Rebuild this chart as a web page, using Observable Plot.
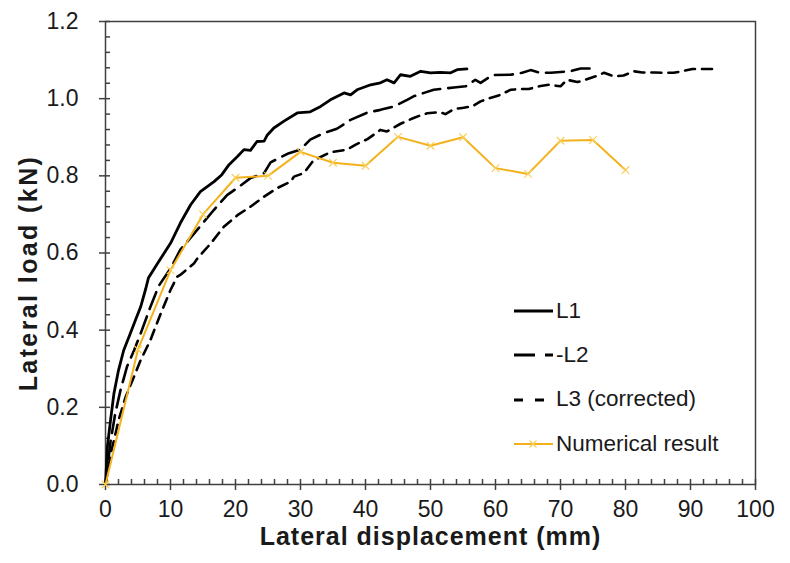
<!DOCTYPE html>
<html>
<head>
<meta charset="utf-8">
<script src="https://cdn.jsdelivr.net/npm/d3@7"></script>
<script src="https://cdn.jsdelivr.net/npm/@observablehq/plot@0.6"></script>
<style>
  html, body { margin: 0; padding: 0; background: #fff; }
  #wrap { position: relative; width: 790px; height: 563px; font-family: "Liberation Sans", Arial, sans-serif; }
  #legend { position: absolute; left: 514px; top: 289px; color: #1a1a1a; font-size: 22.5px; }
  .row { display: flex; align-items: center; height: 44.3px; }
  .row svg { display: block; }
  .row span { margin-left: 3px; line-height: 1; }
</style>
</head>
<body>
<div id="wrap"></div>
<script>
// ---- data ----
const l1X = [0,0.3,0.8,1.3,2.0,2.8,3.8,4.6,5.4,6.2,6.6,8,10,11.5,13.1,14.6,16.7,17.9,19,20.3,21.3,22.3,23.3,24.4,24.9,25.9,27.4,29.5,31.5,33.1,34.6,36.7,37.7,38.7,40.8,42.3,43.3,44.4,45.4,46.9,48.5,50,51.5,53.1,54.1,55.6];
const l1Y = [0,0.10,0.17,0.236,0.296,0.348,0.391,0.426,0.46,0.508,0.535,0.573,0.625,0.677,0.725,0.759,0.785,0.803,0.829,0.85,0.868,0.866,0.889,0.89,0.906,0.924,0.941,0.963,0.966,0.98,0.997,1.015,1.01,1.023,1.036,1.041,1.049,1.041,1.062,1.058,1.071,1.067,1.068,1.067,1.075,1.077];

const l2X = [0,0.8,1.5,2.3,3.3,4.4,5.4,6.9,8.2,10,11.5,12.6,14.1,16.7,18.7,20.8,22.3,24.4,25.4,28,30,31.5,33.6,35.6,37.7,40.3,42.3,44.4,46.4,47.4,49,50.5,53.6,55.4,56.9,57.7,59.5,62.3,64.1,65.4,66.9,68.5,71.5,73.1,74.6];
const l2Y = [0,0.114,0.184,0.244,0.305,0.348,0.391,0.46,0.515,0.56,0.608,0.63,0.66,0.712,0.75,0.775,0.794,0.807,0.835,0.857,0.868,0.894,0.911,0.922,0.945,0.964,0.971,0.98,0.997,1.006,1.015,1.023,1.029,1.032,1.049,1.041,1.061,1.062,1.067,1.074,1.067,1.067,1.071,1.078,1.078];

const l3X = [0,0.8,1.3,2,3.1,4.4,5.4,6.9,8.5,10,11,11.5,13.6,14.1,16.2,18.2,20.3,22.3,24.4,26.4,28.5,29,30.5,32,34.6,37.2,38.5,40.3,42.3,43.3,45.4,47.4,48.5,49.5,51.5,52.3,53.6,54.9,56.4,57.7,59.2,60.8,62.3,63.8,65.1,66.7,68.2,70,71,72.6,73.8,75.4,76.7,78.2,79.7,81.3,82.6,84.6,85.9,87.4,88.7,90.3,91.8,93.6];
const l3Y = [0,0.08,0.114,0.166,0.227,0.28,0.322,0.374,0.443,0.504,0.538,0.543,0.573,0.585,0.625,0.668,0.698,0.72,0.746,0.768,0.785,0.798,0.807,0.84,0.861,0.868,0.881,0.895,0.919,0.915,0.935,0.95,0.957,0.962,0.965,0.96,0.973,0.976,0.98,0.993,1.002,1.01,1.023,1.025,1.025,1.032,1.036,1.032,1.049,1.043,1.049,1.058,1.067,1.058,1.06,1.071,1.068,1.068,1.067,1.067,1.071,1.077,1.077,1.077];

const numX = [0,5,10,15,20,25,30,35,40,45,50,55,60,65,70,75,80];
const numY = [0,0.35,0.555,0.70,0.795,0.80,0.862,0.834,0.826,0.901,0.878,0.90,0.82,0.805,0.891,0.893,0.815];

const seriesNames = ["L1", "-L2", "L3 (corrected)", "Numerical result"];
const xTicks = [0,10,20,30,40,50,60,70,80,90,100];
const yTicks = [0,0.2,0.4,0.6,0.8,1.0,1.2];
const xTitle = "Lateral displacement (mm)";
const yTitle = "Lateral load (kN)";

// ---- build tables ----
const toRows = (xs, ys) => xs.map((x, i) => ({x, y: ys[i]}));
const l1 = toRows(l1X, l1Y), l2 = toRows(l2X, l2Y), l3 = toRows(l3X, l3Y), num = toRows(numX, numY);
const xMinor = d3.range(0, 100.001, 2).filter(v => v % 10 !== 0);
const yMinor = d3.range(0, 30.5, 1).map(v => v * 0.04).filter((v, i) => i % 5 !== 0);

const axisColor = "#404040";
const yellow = "#f3b21c";

const chart = Plot.plot({
  width: 790, height: 563,
  marginLeft: 105, marginRight: 35, marginTop: 21, marginBottom: 79,
  x: {domain: [0, 100]},
  y: {domain: [0, 1.2]},
  style: {fontFamily: "'Liberation Sans', Arial, sans-serif", fontSize: "23px", color: "#1a1a1a", background: "#fff"},
  marks: [
    Plot.frame({stroke: axisColor, strokeWidth: 1.5}),
    // ticks
    Plot.ruleY(yTicks, {x1: 0, x2: 0, insetLeft: -6, insetRight: -5, stroke: axisColor, strokeWidth: 1.5}),
    Plot.ruleY(yMinor, {x1: 0, x2: 0, insetRight: -5, stroke: axisColor, strokeWidth: 1.5}),
    Plot.ruleX(xTicks, {y1: 0, y2: 0, insetTop: -5, insetBottom: -6, stroke: axisColor, strokeWidth: 1.5}),
    Plot.ruleX(xMinor, {y1: 0, y2: 0, insetTop: -5, stroke: axisColor, strokeWidth: 1.5}),
    Plot.axisY({ticks: yTicks, tickSize: 0, tickPadding: 27, tickFormat: d3.format(".1f"), label: null, fontSize: 23}),
    Plot.axisX({ticks: xTicks, tickSize: 0, tickPadding: 16, tickFormat: d => d, label: null, fontSize: 23}),
    Plot.text([yTitle], {frameAnchor: "left", textAnchor: "middle", rotate: -90, dx: -77, dy: 20, fontWeight: "bold", fontSize: 25, text: d => d}),
    Plot.text([xTitle], {frameAnchor: "bottom", textAnchor: "middle", dy: 60, fontWeight: "bold", fontSize: 25, text: d => d}),
    // series
    Plot.line(l3, {x: "x", y: "y", stroke: "#000", strokeWidth: 2.6, strokeDasharray: "10,7", strokeLinejoin: "round"}),
    Plot.line(l2, {x: "x", y: "y", stroke: "#000", strokeWidth: 2.6, strokeDasharray: "18,8", strokeLinejoin: "round"}),
    Plot.line(l1, {x: "x", y: "y", stroke: "#000", strokeWidth: 2.8, strokeLinejoin: "round"}),
    Plot.line(num, {x: "x", y: "y", stroke: yellow, strokeWidth: 2}),
    Plot.dot(num, {x: "x", y: "y", symbol: "times", r: 3.5, stroke: "#f8cf5a", strokeWidth: 1.2})
  ]
});

// stretch the titles a little, as in the reference
d3.select(chart).selectAll("text").each(function () {
  const t = this.textContent;
  if (t === yTitle) d3.select(this).attr("letter-spacing", "2.4px");
  if (t === xTitle) d3.select(this).attr("letter-spacing", "1px");
});

const wrap = document.getElementById("wrap");
wrap.appendChild(chart);

// legend overlay
const legend = document.createElement("div");
legend.id = "legend";
const samples = [
  '<line x1="0" y1="6" x2="39" y2="6" stroke="#000" stroke-width="3"/>',
  '<line x1="0" y1="6" x2="39" y2="6" stroke="#000" stroke-width="3" stroke-dasharray="21,10"/>',
  '<line x1="0" y1="6" x2="32" y2="6" stroke="#000" stroke-width="3" stroke-dasharray="9,12"/>',
  '<line x1="0" y1="6" x2="39" y2="6" stroke="' + yellow + '" stroke-width="2"/><path d="M15.5,2.5L22.5,9.5M22.5,2.5L15.5,9.5" stroke="#f8cf5a" stroke-width="1.2"/>'
];
seriesNames.forEach((name, i) => {
  const row = document.createElement("div");
  row.className = "row";
  row.innerHTML = '<svg width="39" height="12">' + samples[i] + '</svg><span>' + name + '</span>';
  legend.appendChild(row);
});
wrap.appendChild(legend);
</script>
</body>
</html>
